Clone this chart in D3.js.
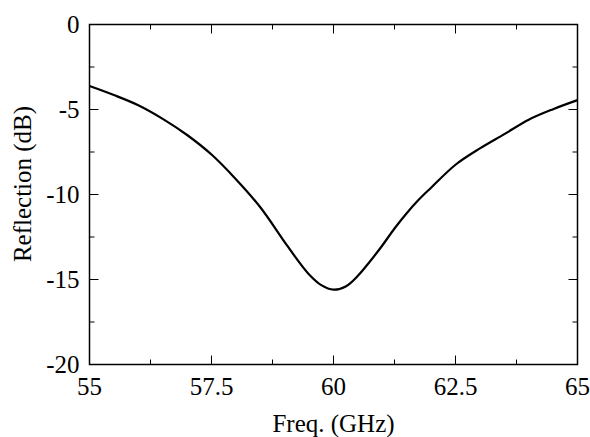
<!DOCTYPE html>
<html><head><meta charset="utf-8">
<script src="https://cdn.jsdelivr.net/npm/d3@7"></script>
<style>body{margin:0;background:#fff}svg{display:block}</style>
</head><body>
<svg id="c" width="590" height="437"></svg>
<script>
const freq = [55.0,55.5,56.0,56.5,57.0,57.5,58.0,58.5,59.0,59.25,59.5,59.75,60.0,60.25,60.5,60.75,61.0,61.25,61.5,61.75,62.0,62.5,63.0,63.5,64.0,64.5,65.0];
const reflection = [-3.62,-4.15,-4.75,-5.55,-6.5,-7.65,-9.1,-10.75,-12.8,-13.8,-14.7,-15.33,-15.6,-15.41,-14.78,-13.93,-13.0,-12.0,-11.1,-10.3,-9.6,-8.25,-7.29,-6.45,-5.6,-4.98,-4.45];
const xTicks = [55,57.5,60,62.5,65];
const xTickLabels = ["55","57.5","60","62.5","65"];
const yTicks = [0,-5,-10,-15,-20];
const yTickLabels = ["0","-5","-10","-15","-20"];
const xMinor = [56.25,58.75,61.25,63.75];
const yMinor = [-2.5,-7.5,-12.5,-17.5];

const L=89.5,R=577.5,T=24.5,B=364.5;
const FONT="'Liberation Serif', Tinos, 'Times New Roman', Times, serif";
const svg=d3.select("#c");
const x=d3.scaleLinear().domain([55,65]).range([L,R]);
const y=d3.scaleLinear().domain([-20,0]).range([B,T]);
const fs=25;

svg.append("rect").attr("x",L).attr("y",T).attr("width",R-L).attr("height",B-T)
  .attr("fill","none").attr("stroke","#000").attr("stroke-width",1.5);

const g=svg.append("g").attr("stroke","#000").attr("stroke-width",1);
const maj=9, mn=5;
xTicks.forEach(v=>{g.append("line").attr("x1",x(v)).attr("x2",x(v)).attr("y1",B).attr("y2",B-maj);
  g.append("line").attr("x1",x(v)).attr("x2",x(v)).attr("y1",T).attr("y2",T+maj);});
xMinor.forEach(v=>{g.append("line").attr("x1",x(v)).attr("x2",x(v)).attr("y1",B).attr("y2",B-mn);
  g.append("line").attr("x1",x(v)).attr("x2",x(v)).attr("y1",T).attr("y2",T+mn);});
yTicks.forEach(v=>{g.append("line").attr("y1",y(v)).attr("y2",y(v)).attr("x1",L).attr("x2",L+maj);
  g.append("line").attr("y1",y(v)).attr("y2",y(v)).attr("x1",R).attr("x2",R-maj);});
yMinor.forEach(v=>{g.append("line").attr("y1",y(v)).attr("y2",y(v)).attr("x1",L).attr("x2",L+mn);
  g.append("line").attr("y1",y(v)).attr("y2",y(v)).attr("x1",R).attr("x2",R-mn);});

const txt=(sel)=>sel.attr("font-family",FONT).attr("font-size",fs).attr("fill","#000");
xTicks.forEach((v,i)=>txt(svg.append("text")).attr("x",x(v)).attr("y",B+30).attr("text-anchor","middle").text(xTickLabels[i]));
yTicks.forEach((v,i)=>txt(svg.append("text")).attr("x",L-10).attr("y",y(v)+8).attr("text-anchor","end").text(yTickLabels[i]));

txt(svg.append("text")).attr("x",(L+R)/2).attr("y",432).attr("text-anchor","middle").text("Freq. (GHz)");
txt(svg.append("text")).attr("transform","translate(31,184) rotate(-90)").attr("text-anchor","middle").text("Reflection (dB)");

const data=freq.map((f,i)=>[f,reflection[i]]);
svg.append("path").datum(data).attr("fill","none").attr("stroke","#000").attr("stroke-width",2.2)
  .attr("d",d3.line().x(d=>x(d[0])).y(d=>y(d[1])).curve(d3.curveCatmullRom));
</script>
</body></html>
